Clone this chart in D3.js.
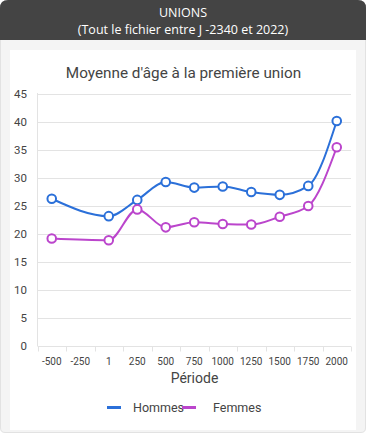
<!DOCTYPE html>
<html lang="fr">
<head>
<meta charset="UTF-8">
<script src="https://d3js.org/d3.v7.min.js"></script>
<style>
body { margin: 0; background: #fff; font-family: "Open Sans", "Noto Sans", sans-serif; }
</style>
</head>
<body>
<svg id="chart" width="367" height="433"></svg>
<script>
// periods (categories) and mean age at first union
var periodes = ["-500", "-250", "1", "250", "500", "750", "1000", "1250", "1500", "1750", "2000"];
var hommes = [26.2, null, 23.1, 26.0, 29.2, 28.2, 28.4, 27.4, 26.9, 28.5, 40.1];
var femmes = [19.1, null, 18.8, 24.3, 21.1, 22.0, 21.7, 21.6, 23.0, 24.9, 35.4];
var yTicks = [0, 5, 10, 15, 20, 25, 30, 35, 40, 45];

var series = [
  { name: "Hommes", values: hommes, color: "#2b70d9" },
  { name: "Femmes", values: femmes, color: "#bb45cc" }
];

var svg = d3.select("#chart");

// frame: gray box, dark header, white panel
svg.append("path")
  .attr("d", "M0.5,8 Q0.5,0.5 8,0.5 L358,0.5 Q365.5,0.5 365.5,8 L365.5,428 Q365.5,432.5 361,432.5 L5,432.5 Q0.5,432.5 0.5,428 Z")
  .attr("fill", "#f4f4f4").attr("stroke", "#e2e2e2");
svg.append("path")
  .attr("d", "M0,8 Q0,0 8,0 L358,0 Q366,0 366,8 L366,40 L0,40 Z")
  .attr("fill", "#444");
svg.append("text").attr("x", 183).attr("y", 17).attr("text-anchor", "middle")
  .attr("fill", "#fff").attr("font-size", 12.5).attr("font-weight", 400)
  .attr("font-family", "'Open Sans', sans-serif").text("UNIONS");
svg.append("text").attr("x", 183).attr("y", 34).attr("text-anchor", "middle")
  .attr("fill", "#fff").attr("font-size", 12.5).attr("font-weight", 400)
  .attr("font-family", "'Open Sans', sans-serif").text("(Tout le fichier entre J -2340 et 2022)");
svg.append("rect").attr("x", 10).attr("y", 50).attr("width", 346).attr("height", 380).attr("fill", "#fff");

var font = "Roboto, Arial, sans-serif";

svg.append("text").attr("x", 183.5).attr("y", 77.5).attr("text-anchor", "middle")
  .attr("fill", "#444").attr("font-size", 15.3).attr("font-family", font)
  .text("Moyenne d'âge à la première union");

var x = d3.scaleBand().domain(periodes).range([37.5, 351]);
var y = d3.scaleLinear().domain([0, 45]).range([345.5, 93.5]);

var g = svg.append("g");

// grid
g.selectAll(".grid").data(yTicks).enter().append("line")
  .attr("x1", 37.5).attr("x2", 351)
  .attr("y1", function(d){ return Math.round(y(d)) + 0.5; })
  .attr("y2", function(d){ return Math.round(y(d)) + 0.5; })
  .attr("stroke", "#e3e3e3");

g.append("line").attr("x1", 37.5).attr("x2", 37.5).attr("y1", 93).attr("y2", 346)
  .attr("stroke", "#e3e3e3");

// y labels
g.selectAll(".yl").data(yTicks).enter().append("text")
  .attr("x", 27).attr("y", function(d){ return y(d) + 4; })
  .attr("text-anchor", "end").attr("fill", "#444").attr("font-size", 11.5).attr("font-family", font)
  .text(function(d){ return d; });

// x axis with ticks on band edges
var xAxis = g.append("g").attr("transform", "translate(0," + (Math.round(y(0)) + 0.5) + ")");
var edges = periodes.map(function(p){ return x(p); }).concat([x.range()[1]]);
xAxis.selectAll("line").data(edges).enter().append("line")
  .attr("x1", function(d){ return Math.round(d) + 0.5; })
  .attr("x2", function(d){ return Math.round(d) + 0.5; })
  .attr("y1", 0).attr("y2", 5).attr("stroke", "#e3e3e3");
xAxis.selectAll("text").data(periodes).enter().append("text")
  .attr("x", function(d){ return x(d) + x.bandwidth() / 2; })
  .attr("y", 18).attr("text-anchor", "middle").attr("fill", "#444")
  .attr("font-size", 10).attr("font-family", font)
  .text(function(d){ return d; });

svg.append("text").attr("x", 194.5).attr("y", 382.5).attr("text-anchor", "middle")
  .attr("fill", "#444").attr("font-size", 14).attr("font-family", font).text("Période");

// lines
var line = d3.line()
  .defined(function(d){ return d.v !== null; })
  .x(function(d){ return x(d.p) + x.bandwidth() / 2; })
  .y(function(d){ return y(d.v); })
  .curve(d3.curveMonotoneX);

series.forEach(function(s){
  var pts = periodes.map(function(p, i){ return { p: p, v: s.values[i] }; })
    .filter(function(d){ return d.v !== null; });
  g.append("path").datum(pts).attr("d", line)
    .attr("fill", "none").attr("stroke", s.color).attr("stroke-width", 2);
});
series.forEach(function(s){
  var pts = periodes.map(function(p, i){ return { p: p, v: s.values[i] }; })
    .filter(function(d){ return d.v !== null; });
  g.selectAll(null).data(pts).enter().append("circle")
    .attr("cx", function(d){ return x(d.p) + x.bandwidth() / 2; })
    .attr("cy", function(d){ return y(d.v); })
    .attr("r", 4.3).attr("fill", "#fff").attr("stroke", s.color).attr("stroke-width", 2);
});

// legend
var leg = [{ s: series[0], lx: 107, tx: 133 }, { s: series[1], lx: 182, tx: 213 }];
leg.forEach(function(l){
  svg.append("rect").attr("x", l.lx).attr("y", 406).attr("width", 14).attr("height", 3)
    .attr("fill", l.s.color);
  svg.append("text").attr("x", l.tx).attr("y", 412).attr("fill", "#444")
    .attr("font-size", 12.5).attr("font-family", font).text(l.s.name);
});
</script>
</body>
</html>
